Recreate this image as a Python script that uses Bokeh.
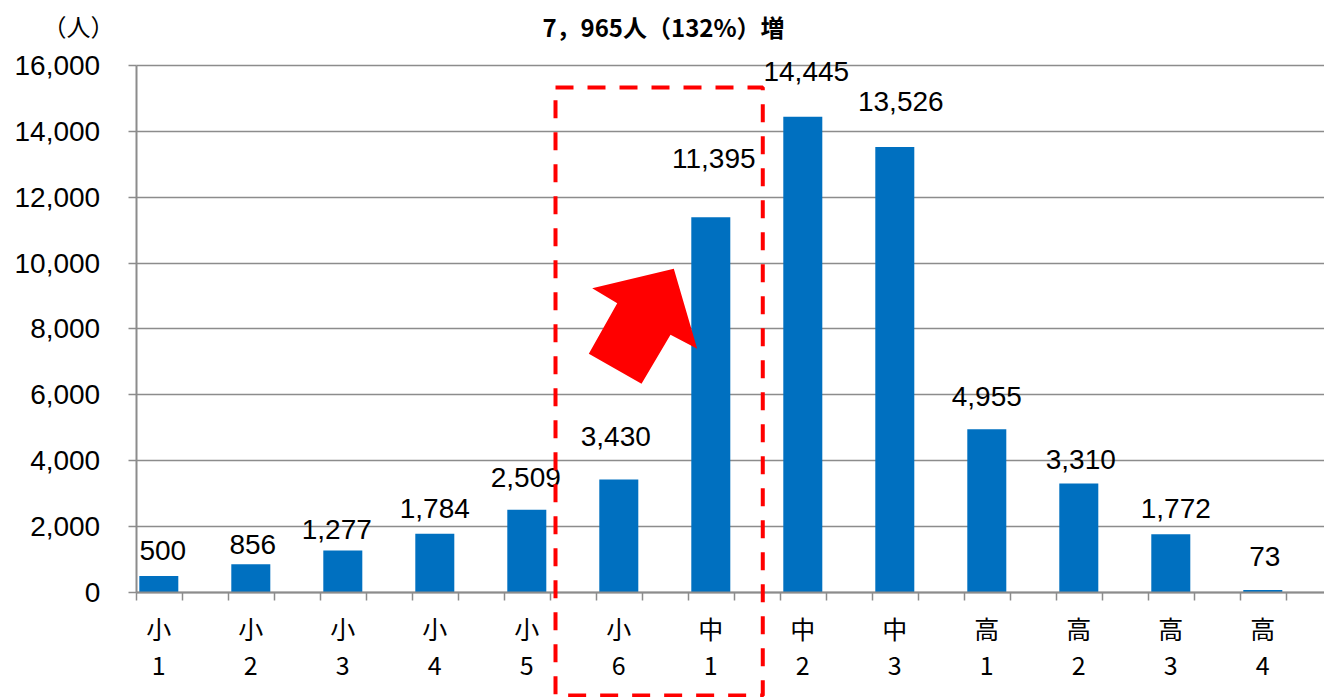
from bokeh.plotting import figure
from bokeh.models import (ColumnDataSource, LabelSet, Label, BoxAnnotation,
                          FixedTicker, NumeralTickFormatter, Range1d)
from bokeh.core.properties import value
from bokeh.embed import file_html
from bokeh.resources import INLINE

# ---- data ----
school = ["小", "小", "小", "小", "小", "小", "中", "中", "中", "高", "高", "高", "高"]
year = ["1", "2", "3", "4", "5", "6", "1", "2", "3", "1", "2", "3", "4"]
counts = [500, 856, 1277, 1784, 2509, 3430, 11395, 14445, 13526, 4955, 3310, 1772, 73]
y_ticks = [0, 2000, 4000, 6000, 8000, 10000, 12000, 14000, 16000]
title_text = "7，965人（132%）増"
unit_text = "（人）"

# ---- styling / annotation geometry ----
label_dx = [4, 2, -6, 0, -1, -3, 3, 3.5, 6, 0, 2, 5, 2]          # px
label_dy = [25.5, 20, 21, 25.7, 32, 43, 59, 45.5, 45, 33, 24.3, 26, 34]  # px above bar top
arrow_x = [5.598, 4.711, 4.983, 4.674, 5.247, 5.562, 5.852]
arrow_y = [9828, 9239, 8783, 7247, 6336, 7824, 7399]
box_left, box_right, box_top, box_bottom = 4.312, 6.565, 15332, -3130

BLUE = "#0070C0"
GRAY = "#8c8c8c"
W, H = 1324, 697
X0, X1 = -0.2457, 12.6707          # axis extent (data)
XR = (-1.7207, 12.6707)           # full canvas x range
YR = (-3187.9, 17973.4)           # full canvas y range

xs = list(range(len(counts)))
labels = [f"{v:,}" for v in counts]
src = ColumnDataSource(dict(x=xs, top=counts, text=labels, dx=label_dx, dy=label_dy))

p = figure(width=W, height=H, output_backend="svg", toolbar_location=None,
           x_range=Range1d(*XR), y_range=Range1d(*YR),
           min_border=0, min_border_left=0, min_border_right=0,
           min_border_top=0, min_border_bottom=0)
p.outline_line_color = None
p.background_fill_color = "white"
p.border_fill_color = "white"

# y grid limited to the plotting area
p.xgrid.visible = False
p.ygrid.grid_line_color = GRAY
p.ygrid.grid_line_width = 1.5
try:
    p.ygrid.cross_bounds = (X0, X1)
except Exception:
    pass

p.vbar(x="x", top="top", width=0.424, source=src, fill_color=BLUE, line_color=None)

# arrow
p.patch(arrow_x, arrow_y, fill_color="#FF0000", line_color=None)

# data labels
ls = LabelSet(x="x", y="top", text="text", x_offset="dx", y_offset="dy", source=src,
              text_align="center", text_baseline="middle",
              text_font=value("Liberation Sans"), text_font_size="28px", text_color="black")
p.add_layout(ls)

# dashed box
box = BoxAnnotation(left=box_left, right=box_right, top=box_top, bottom=box_bottom,
                    fill_alpha=0, fill_color=None, line_color="#FF0000", line_alpha=1,
                    line_width=4, line_dash="18 14")
p.add_layout(box)

# x axis
minor = [X0 + 0.5 * k for k in range(26)]
p.xaxis.fixed_location = 0
p.xaxis.bounds = (X0, X1)
p.xaxis.ticker = FixedTicker(ticks=xs, minor_ticks=minor)
p.xaxis.major_label_overrides = {i: f"{s}\n{y}" for i, (s, y) in enumerate(zip(school, year))}
p.xaxis.major_tick_out = 0
p.xaxis.major_tick_in = 0
p.xaxis.minor_tick_out = 8
p.xaxis.minor_tick_in = 0
p.xaxis.minor_tick_line_color = GRAY
p.xaxis.minor_tick_line_width = 1.5
p.xaxis.axis_line_color = GRAY
p.xaxis.axis_line_width = 2
p.xaxis.major_label_text_font = "Noto Sans CJK JP"
p.xaxis.major_label_text_font_size = "25px"
p.xaxis.major_label_text_color = "black"
p.xaxis.major_label_text_line_height = 1.0
p.xaxis.major_label_standoff = 10

# y axis
p.yaxis.fixed_location = X0
p.yaxis.bounds = (0, 16000)
p.yaxis.ticker = FixedTicker(ticks=y_ticks)
p.yaxis.formatter = NumeralTickFormatter(format="0,0")
p.yaxis.major_label_text_font = "Liberation Sans"
p.yaxis.major_label_text_font_size = "28px"
p.yaxis.major_label_text_color = "black"
p.yaxis.major_label_standoff = 28
p.yaxis.major_tick_out = 8
p.yaxis.major_tick_in = 0
p.yaxis.major_tick_line_color = GRAY
p.yaxis.major_tick_line_width = 1.5
p.yaxis.minor_tick_line_color = None
p.yaxis.axis_line_color = GRAY
p.yaxis.axis_line_width = 2

# title and unit
p.add_layout(Label(x=663, y=H - 26, x_units="screen", y_units="screen", text=title_text,
                   text_align="center", text_baseline="middle",
                   text_font="Noto Sans CJK JP",
                   text_font_style="bold", text_font_size="24px", text_color="black"))
p.add_layout(Label(x=78, y=H - 25, x_units="screen", y_units="screen", text=unit_text,
                   text_align="center", text_baseline="middle",
                   text_font="Noto Sans CJK JP",
                   text_font_size="24px", text_color="black"))

open("out.html", "w").write(file_html(p, INLINE))
